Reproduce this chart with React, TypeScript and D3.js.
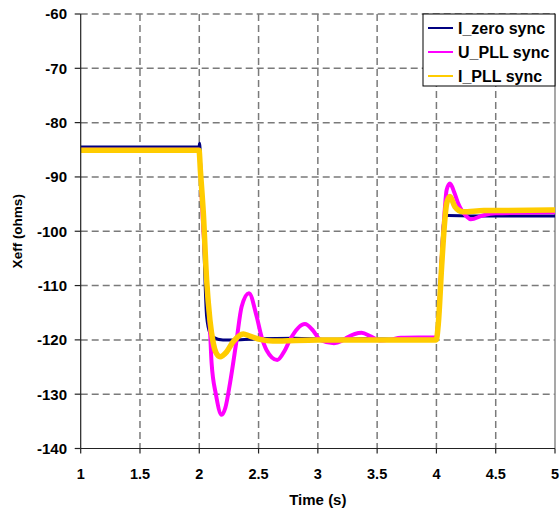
import React from "react";
import * as d3 from "d3";

const xTicks = [1, 1.5, 2, 2.5, 3, 3.5, 4, 4.5, 5];
const yTicks = [-60, -70, -80, -90, -100, -110, -120, -130, -140];

const seriesNames = ["I_zero sync", "U_PLL sync", "I_PLL sync"];
const seriesColors = ["#000080", "#FF00FF", "#FFCC00"];

const tZero = [1, 1.998, 2.003, 2.012, 2.034, 2.062, 2.09, 2.115, 2.2, 2.3, 2.5, 2.8, 3.1, 3.4, 3.7, 3.998, 4.01, 4.03, 4.057, 4.075, 4.1, 4.5, 5];
const vZero = [-84.5, -84.5, -83.8, -88, -99.8, -115.7, -118.8, -119.5, -120, -120, -119.8, -119.7, -119.9, -119.8, -119.9, -119.9, -117, -110, -99, -97, -97.1, -97.2, -97.2];

const tUpll = [1, 1.998, 2.01, 2.03, 2.06, 2.09, 2.104, 2.14, 2.189, 2.22, 2.259, 2.315, 2.357, 2.419, 2.484, 2.526, 2.568, 2.658, 2.72, 2.765, 2.891, 2.96, 3.02, 3.136, 3.2, 3.243, 3.369, 3.45, 3.52, 3.6, 3.7, 3.998, 4.016, 4.044, 4.07, 4.086, 4.114, 4.15, 4.184, 4.255, 4.29, 4.39, 4.5, 5];
const vUpll = [-85, -85, -89, -98, -108, -118, -124.3, -130, -133.8, -132.5, -128, -120, -113.9, -111.4, -115.7, -119.5, -121.9, -123.7, -122.0, -120, -117.1, -118.3, -120, -120.6, -120.2, -119.6, -118.7, -119.4, -120.1, -120, -119.6, -119.5, -117, -105.3, -96.1, -92.4, -91.2, -92.8, -94.9, -97.3, -97.8, -97.1, -96.7, -96.5];

const tIpll = [1, 1.998, 2.01, 2.034, 2.062, 2.09, 2.118, 2.14, 2.175, 2.231, 2.287, 2.371, 2.427, 2.511, 2.62, 3.0, 3.5, 3.998, 4.016, 4.044, 4.066, 4.086, 4.114, 4.156, 4.22, 4.4, 5];
const vIpll = [-85.1, -85.1, -89, -96.6, -109, -116.4, -120.6, -122.3, -123.1, -122.2, -120.3, -118.9, -119.3, -119.9, -120.2, -120, -120, -120, -117, -106.5, -99.2, -94.9, -93.6, -95.5, -96.4, -96.2, -96.1];

const seriesT = [tZero, tUpll, tIpll];
const seriesV = [vZero, vUpll, vIpll];
const seriesW = [3, 4, 5.5];

const W = 560;
const H = 508;
const left = 80.7;
const right = 555;
const top = 14;
const bottom = 448.5;
const font = "'Liberation Sans', Arial, sans-serif";

export default function App() {
  const x = d3.scaleLinear().domain([1, 5]).range([left, right]);
  const y = d3.scaleLinear().domain([-140, -60]).range([bottom, top]);
  const line = d3
    .line<[number, number]>()
    .x((d) => x(d[0]))
    .y((d) => y(d[1]))
    .curve(d3.curveMonotoneX);

  return (
    <svg width={W} height={H} style={{ position: "absolute", left: 0, top: 0, background: "#fff" }} fontFamily={font}>
      <defs>
        <clipPath id="plotclip">
          <rect x={left} y={top - 2} width={right - left} height={bottom - top + 2} />
        </clipPath>
      </defs>
      <rect x={0} y={0} width={W} height={H} fill="#fff" />
      {/* grid */}
      {yTicks.filter((v) => v !== -140).map((v) => (
        <line key={"gy" + v} x1={left} x2={right} y1={y(v)} y2={y(v)} stroke="#7a7a7a" strokeWidth={1.5} strokeDasharray="7,4" />
      ))}
      {xTicks.filter((v) => v !== 1 && v !== 5).map((v) => (
        <line key={"gx" + v} x1={x(v)} x2={x(v)} y1={top} y2={bottom} stroke="#7a7a7a" strokeWidth={1.5} strokeDasharray="7,4" />
      ))}
      <line x1={right} x2={right} y1={top} y2={bottom} stroke="#8a8a8a" strokeWidth={1.5} />
      {/* series */}
      <g clipPath="url(#plotclip)">
        {seriesT.map((ts, i) => {
          const pts = ts.map((t, j) => [t, seriesV[i][j]] as [number, number]);
          return (
            <path key={"s" + i} d={line(pts) || ""} fill="none" stroke={seriesColors[i]} strokeWidth={seriesW[i]} strokeLinejoin="round" />
          );
        })}
      </g>
      {/* axes */}
      <line x1={left} x2={left} y1={top} y2={bottom} stroke="#222" strokeWidth={1.2} />
      <line x1={left} x2={right} y1={bottom} y2={bottom} stroke="#222" strokeWidth={1.2} />
      {yTicks.map((v) => (
        <g key={"yt" + v}>
          <line x1={left - 6} x2={left} y1={y(v)} y2={y(v)} stroke="#222" strokeWidth={1.2} />
          <text x={67} y={y(v)} dy="0.36em" textAnchor="end" fontSize={15} fontWeight="bold" fill="#000">
            {String(v)}
          </text>
        </g>
      ))}
      {xTicks.map((v) => (
        <g key={"xt" + v}>
          <line x1={x(v)} x2={x(v)} y1={bottom} y2={bottom + 5} stroke="#222" strokeWidth={1.2} />
          <text x={x(v)} y={478.5} textAnchor="middle" fontSize={14.5} fontWeight="bold" fill="#000">
            {String(v)}
          </text>
        </g>
      ))}
      <text x={(left + right) / 2} y={505} textAnchor="middle" fontSize={15} fontWeight="bold" fill="#000">
        Time (s)
      </text>
      <text
        transform={`translate(21.5, ${(top + bottom) / 2}) rotate(-90)`}
        textAnchor="middle"
        fontSize={13.5}
        fontWeight="bold"
        fill="#000"
      >
        Xeff (ohms)
      </text>
      {/* legend */}
      <rect x={423} y={14} width={132} height={72} fill="#fff" stroke="#000" strokeWidth={1} />
      {seriesNames.map((n, i) => (
        <g key={"lg" + i}>
          <line x1={428} x2={453} y1={28 + i * 24} y2={28 + i * 24} stroke={seriesColors[i]} strokeWidth={2} />
          <text x={458} y={28 + i * 24} dy="0.36em" fontSize={16} fontWeight="bold" fill="#000">
            {n}
          </text>
        </g>
      ))}
    </svg>
  );
}
